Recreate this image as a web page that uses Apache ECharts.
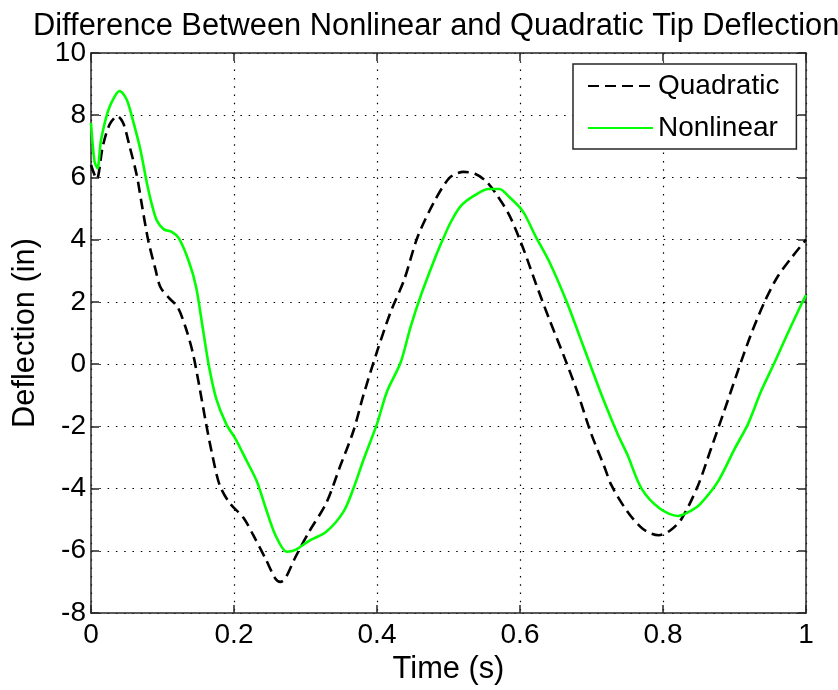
<!DOCTYPE html>
<html>
<head>
<meta charset="utf-8">
<script src="https://cdn.jsdelivr.net/npm/echarts@6/dist/echarts.min.js"></script>
<style>
html,body{margin:0;padding:0;background:#fff;}
#chart{width:838px;height:690px;}
</style>
</head>
<body>
<div id="chart"></div>
<script>
var titleText = 'Difference Between Nonlinear and Quadratic Tip Deflection';
var xLabel = 'Time (s)';
var yLabel = 'Deflection (in)';
var seriesNames = ['Quadratic', 'Nonlinear'];

var quadTime = [0, 0.008, 0.0165, 0.026, 0.037, 0.045, 0.054, 0.064, 0.071, 0.080, 0.090, 0.097, 0.109, 0.121, 0.132, 0.142, 0.151, 0.161, 0.170, 0.180, 0.194, 0.213, 0.227, 0.244, 0.258, 0.265, 0.272, 0.286, 0.305, 0.329, 0.348, 0.367, 0.381, 0.400, 0.419, 0.438, 0.457, 0.481, 0.502, 0.521, 0.537, 0.552, 0.566, 0.585, 0.604, 0.622, 0.641, 0.661, 0.680, 0.699, 0.718, 0.728, 0.749, 0.772, 0.794, 0.810, 0.826, 0.849, 0.867, 0.886, 0.905, 0.923, 0.942, 0.960, 0.979, 1.000];
var quadDefl = [6.4, 5.95, 7.0, 7.7, 7.97, 7.75, 7.0, 6.07, 5.14, 3.98, 3.06, 2.48, 2.13, 1.84, 1.2, 0.4, -0.65, -1.92, -2.96, -3.89, -4.47, -4.93, -5.5, -6.25, -6.9, -7.0, -6.88, -6.2, -5.39, -4.47, -3.31, -2.15, -1.0, 0.4, 1.67, 2.71, 4.1, 5.26, 6.0, 6.18, 6.12, 5.89, 5.49, 4.79, 3.75, 2.6, 1.44, 0.28, -0.88, -2.2, -3.3, -3.9, -4.7, -5.3, -5.5, -5.35, -4.97, -3.9, -2.73, -1.48, -0.2, 0.95, 2.0, 2.8, 3.4, 4.0];

var nonTime = [0, 0.005, 0.009, 0.014, 0.024, 0.033, 0.040, 0.050, 0.059, 0.069, 0.078, 0.085, 0.092, 0.102, 0.113, 0.123, 0.137, 0.147, 0.156, 0.165, 0.175, 0.189, 0.203, 0.217, 0.232, 0.244, 0.258, 0.274, 0.286, 0.305, 0.329, 0.353, 0.367, 0.381, 0.400, 0.414, 0.433, 0.447, 0.462, 0.481, 0.490, 0.504, 0.518, 0.537, 0.556, 0.571, 0.585, 0.604, 0.622, 0.641, 0.665, 0.684, 0.699, 0.718, 0.737, 0.750, 0.770, 0.796, 0.821, 0.840, 0.852, 0.877, 0.900, 0.919, 0.937, 0.956, 0.974, 0.993, 1.000];
var nonDefl = [7.75, 6.5, 6.3, 7.2, 8.15, 8.6, 8.78, 8.5, 7.8, 6.9, 5.84, 5.14, 4.62, 4.33, 4.25, 4.04, 3.29, 2.48, 1.2, -0.07, -1.1, -1.92, -2.44, -3.08, -3.77, -4.6, -5.5, -6.03, -5.97, -5.68, -5.39, -4.75, -4.0, -3.08, -1.92, -0.88, 0.05, 1.2, 2.25, 3.4, 3.9, 4.6, 5.1, 5.43, 5.63, 5.63, 5.37, 4.91, 4.1, 3.29, 2.02, 0.86, -0.07, -1.22, -2.27, -2.9, -4.0, -4.65, -4.88, -4.7, -4.5, -3.77, -2.73, -1.92, -0.88, 0.05, 0.97, 1.9, 2.22];

function pairs(xs, ys) { return xs.map(function (x, i) { return [x, ys[i]]; }); }

var FONT = '"Liberation Sans", Arial, Helvetica, sans-serif';
var chart = echarts.init(document.getElementById('chart'), null, {renderer: 'canvas'});

var axisLineStyle = {color: '#262626', width: 1.5};
var tickStyle = {show: true, inside: true, length: 8, lineStyle: {color: '#262626', width: 1.5}};
var gridStyle = {show: true, lineStyle: {color: '#000', width: 1.2, type: [1.5, 6.8]}};

chart.setOption({
  animation: false,
  backgroundColor: '#fff',
  title: {
    text: titleText,
    left: 28,
    top: 6,
    textStyle: {fontFamily: FONT, fontSize: 30.8, fontWeight: 'normal', color: '#000'}
  },
  grid: {left: 91, right: 32, top: 53, bottom: 77, containLabel: false},
  legend: {
    show: true,
    orient: 'vertical',
    left: 573,
    top: 64,
    padding: [8, 17, 7, 14],
    itemGap: 14,
    itemWidth: 65,
    itemHeight: 14,
    backgroundColor: '#fff',
    borderColor: '#262626',
    borderWidth: 1.5,
    itemStyle: {opacity: 0},
    textStyle: {fontFamily: FONT, fontSize: 28, color: '#000'},
    data: seriesNames
  },
  xAxis: [{
    type: 'value', min: 0, max: 1, interval: 0.2,
    name: xLabel, nameLocation: 'middle', nameGap: 38,
    nameTextStyle: {fontFamily: FONT, fontSize: 30.8, color: '#000'},
    axisLine: {show: true, onZero: false, lineStyle: axisLineStyle},
    axisTick: tickStyle,
    axisLabel: {fontFamily: FONT, fontSize: 28, color: '#000', margin: 8},
    splitLine: gridStyle
  }, {
    type: 'value', min: 0, max: 1, interval: 0.2, position: 'top',
    axisLine: {show: true, onZero: false, lineStyle: axisLineStyle},
    axisTick: tickStyle, axisLabel: {show: false}, splitLine: {show: false}
  }],
  yAxis: [{
    type: 'value', min: -8, max: 10, interval: 2,
    name: yLabel, nameLocation: 'middle', nameGap: 50, nameRotate: 90,
    nameTextStyle: {fontFamily: FONT, fontSize: 30.8, color: '#000'},
    axisLine: {show: true, onZero: false, lineStyle: axisLineStyle},
    axisTick: tickStyle,
    axisLabel: {fontFamily: FONT, fontSize: 28, color: '#000', margin: 5},
    splitLine: gridStyle
  }, {
    type: 'value', min: -8, max: 10, interval: 2, position: 'right',
    axisLine: {show: true, onZero: false, lineStyle: axisLineStyle},
    axisTick: tickStyle, axisLabel: {show: false}, splitLine: {show: false}
  }],
  series: [{
    name: seriesNames[0], type: 'line', xAxisIndex: 0, yAxisIndex: 0,
    data: pairs(quadTime, quadDefl),
    symbol: 'none', smooth: 0.3,
    lineStyle: {color: '#000', width: 2.6, type: [11, 6]},
    itemStyle: {color: '#000'}
  }, {
    name: seriesNames[1], type: 'line', xAxisIndex: 0, yAxisIndex: 0,
    data: pairs(nonTime, nonDefl),
    symbol: 'none', smooth: 0.3,
    lineStyle: {color: '#00ff00', width: 2.6, type: 'solid'},
    itemStyle: {color: '#00ff00'}
  }]
});
</script>
</body>
</html>
